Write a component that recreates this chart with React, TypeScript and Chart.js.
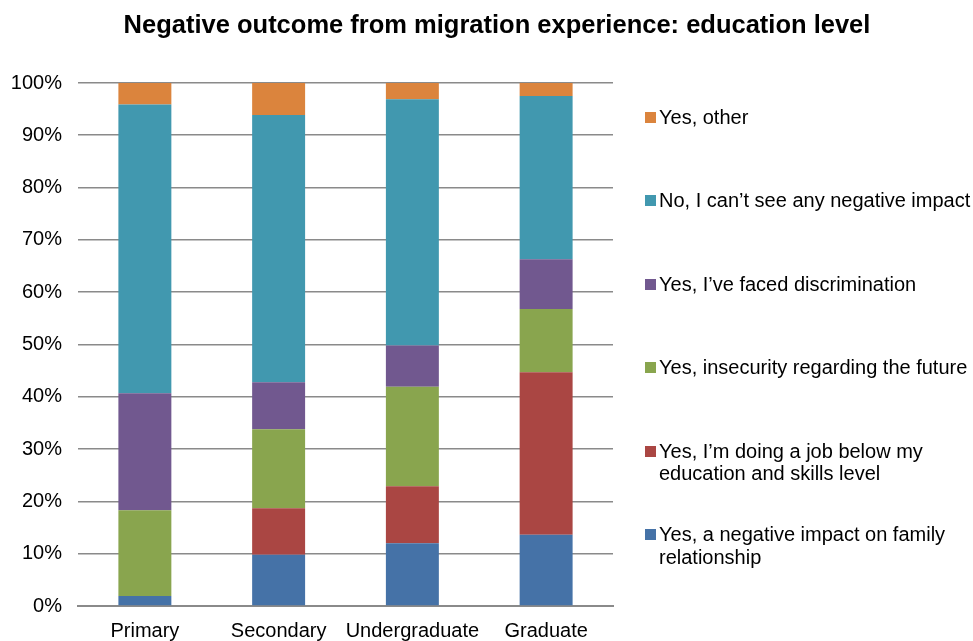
import React, { useEffect, useRef } from "react";
import { Chart, registerables } from "chart.js";
Chart.register(...registerables);

const categories = ["Primary", "Secondary", "Undergraduate", "Graduate"];
const familyImpact = [1.9, 9.8, 12.0, 13.6];
const jobBelowSkills = [0, 8.9, 10.9, 31.1];
const insecurity = [16.4, 15.1, 19.0, 12.1];
const discrimination = [22.4, 9.0, 7.9, 9.5];
const noImpact = [55.2, 51.1, 47.1, 31.2];
const other = [4.1, 6.1, 3.1, 2.5];

const seriesLabels = [
  "Yes, a negative impact on family relationship",
  "Yes, I\u2019m doing a job below my education and skills level",
  "Yes, insecurity regarding the future",
  "Yes, I\u2019ve faced discrimination",
  "No, I can\u2019t see any negative impact",
  "Yes, other",
];
const seriesColors = ["#4572A7", "#AA4643", "#89A54E", "#71588F", "#4198AF", "#DB843D"];
const seriesValues = [familyImpact, jobBelowSkills, insecurity, discrimination, noImpact, other];

const title = "Negative outcome from migration experience: education level";
const FONT = "'Liberation Sans', Arial, Helvetica, sans-serif";

export default function App() {
  const ref = useRef<HTMLCanvasElement | null>(null);
  useEffect(() => {
    if (!ref.current) return;
    const chart = new Chart(ref.current, {
      type: "bar",
      data: {
        labels: categories,
        datasets: seriesValues.map((vals, i) => ({
          label: seriesLabels[i],
          data: vals,
          backgroundColor: seriesColors[i],
          borderWidth: 0,
          categoryPercentage: 1,
          barPercentage: 0.396,
        })),
      },
      options: {
        animation: false,
        responsive: false,
        maintainAspectRatio: false,
        layout: { padding: { left: 0, right: 360, top: 83, bottom: 0 } },
        plugins: {
          legend: { display: false },
          tooltip: { enabled: false },
          title: { display: false },
        },
        scales: {
          x: {
            stacked: true,
            grid: { display: false, drawTicks: false },
            border: { display: true, color: "#8a8a8a", width: 2 },
            ticks: { color: "#000", font: { family: FONT, size: 20 }, padding: 13, maxRotation: 0, autoSkip: false },
            afterFit: (s: any) => { s.height = 35; },
          },
          y: {
            stacked: true,
            min: 0,
            max: 100,
            grid: { color: "#8a8a8a", lineWidth: 1.6, drawTicks: false },
            border: { display: false },
            ticks: {
              stepSize: 10,
              color: "#000",
              font: { family: FONT, size: 20 },
              padding: 16,
              callback: (v: any) => v + "%",
            },
            afterFit: (s: any) => { s.width = 78; },
          },
        },
      },
    });
    return () => chart.destroy();
  }, []);

  const legendOrder = [5, 4, 3, 2, 1, 0];
  return (
    <div style={{ position: "absolute", left: 0, top: 0, width: 973, height: 641, overflow: "hidden", background: "#fff" }}>
      <canvas ref={ref} width={973} height={641} style={{ position: "absolute", left: 0, top: 0, width: 973, height: 641 }} />
      <div style={{ position: "absolute", left: 0, top: 9, width: 994, textAlign: "center", font: `bold 25.5px ${FONT}`, lineHeight: "30px", color: "#000", whiteSpace: "nowrap" }}>
        {title}
      </div>
      {legendOrder.map((si, k) => (
        <div key={si} style={{ position: "absolute", left: 645, top: 106 + k * 83.4, width: 328 }}>
          <div style={{ position: "absolute", left: 0, top: 6, width: 11, height: 11, background: seriesColors[si] }} />
          <div style={{ position: "absolute", left: 14, top: 0, width: 314, font: `20px ${FONT}`, lineHeight: "22.6px", color: "#000" }}>
            {seriesLabels[si]}
          </div>
        </div>
      ))}
    </div>
  );
}
